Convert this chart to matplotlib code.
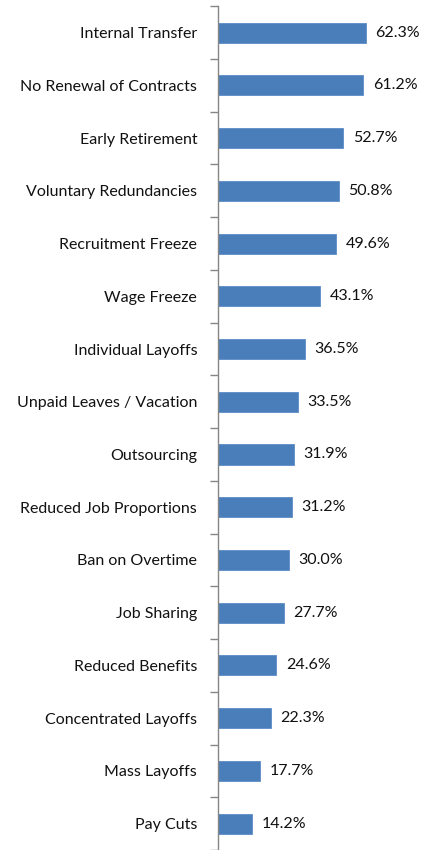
import matplotlib
matplotlib.use("Agg")
import matplotlib.pyplot as plt
import numpy as np

# data, top to bottom as shown in the picture
categories = ["Internal Transfer", "No Renewal of Contracts", "Early Retirement",
              "Voluntary Redundancies", "Recruitment Freeze", "Wage Freeze",
              "Individual Layoffs", "Unpaid Leaves / Vacation", "Outsourcing",
              "Reduced Job Proportions", "Ban on Overtime", "Job Sharing",
              "Reduced Benefits", "Concentrated Layoffs", "Mass Layoffs", "Pay Cuts"]
values = [62.3, 61.2, 52.7, 50.8, 49.6, 43.1, 36.5, 33.5, 31.9,
          31.2, 30.0, 27.7, 24.6, 22.3, 17.7, 14.2]

plt.rcParams['font.family'] = ['Lato', 'DejaVu Sans']

fig = plt.figure(figsize=(4.24, 8.5), dpi=100)
ax = fig.add_axes([218 / 424, 0, 190 / 424, 843.75 / 850])

n = len(categories)
y = np.arange(n)[::-1]
ax.barh(y, values, height=0.38, color='#4a7ebb', edgecolor='#5b8cc8', linewidth=0.6)

for yi, v in zip(y, values):
    ax.text(v + 4.0, yi, f"{v:.1f}%", va='center', ha='left', fontsize=11.5, color='#111111')

ax.set_xlim(0, 80)
ax.set_ylim(-0.5, n - 0.5)

# category labels on the left, ticks sitting between categories
ax.set_yticks(y)
ax.set_yticklabels(categories, fontsize=11.5, color='#111111')
ax.tick_params(axis='y', which='major', length=0, pad=15)
ax.set_yticks(np.arange(n + 1) - 0.5, minor=True)
ax.tick_params(axis='y', which='minor', length=6, color='#868686', width=1)
ax.set_xticks([])

for s in ['top', 'right', 'bottom']:
    ax.spines[s].set_visible(False)
ax.spines['left'].set_color('#868686')
ax.spines['left'].set_linewidth(1)

fig.savefig("out.png", dpi=100)
